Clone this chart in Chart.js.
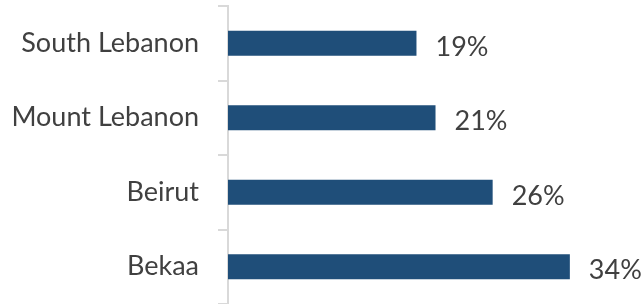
<!DOCTYPE html>
<html>
<head>
<meta charset="utf-8">
<script src="https://cdn.jsdelivr.net/npm/chart.js@4/dist/chart.umd.min.js"></script>
<style>
html,body{margin:0;padding:0;background:#fff;}
#wrap{width:642px;height:304px;position:relative;}
</style>
</head>
<body>
<div id="wrap"><canvas id="chartCanvas"></canvas></div>
<script>

const regions = ["South Lebanon", "Mount Lebanon", "Beirut", "Bekaa"];
const shares = [0.188, 0.207, 0.264, 0.341];

const barColor = "#1f4e79";
const textColor = "#404040";
const fontFamily = "Lato, 'Open Sans', sans-serif";

// draws the percent labels to the right of each bar
const valueLabels = {
id: "valueLabels",
afterDatasetsDraw(chart){
const ctx = chart.ctx;
const meta = chart.getDatasetMeta(0);
ctx.save();
ctx.font = "27px " + fontFamily;
ctx.fillStyle = textColor;
ctx.textAlign = "left";
ctx.textBaseline = "middle";
meta.data.forEach((bar, i) => {
ctx.fillText(Math.round(shares[i] * 100) + "%", bar.x + 19, bar.y + 4);
});
ctx.restore();
}
};

new Chart(document.getElementById("chartCanvas"), {
type: "bar",
data: {
labels: regions,
datasets: [{
data: shares,
backgroundColor: barColor,
borderWidth: 0,
barPercentage: 0.335,
categoryPercentage: 1
}]
},
options: {
indexAxis: "y",
responsive: true,
maintainAspectRatio: false,
animation: false,
layout: {padding: {top: 6, right: 13, bottom: 0, left: 0}},
plugins: {legend: {display: false}, tooltip: {enabled: false}},
scales: {
x: {display: false, min: 0, max: 0.4},
y: {
afterFit(scale){
scale.width = 228;
scale.paddingTop = 0;
scale.paddingBottom = 0;
},
border: {display: true, color: "#d9d9d9", width: 2},
grid: {offset: true, drawOnChartArea: false, tickLength: 10, color: "#d9d9d9", lineWidth: 2},
ticks: {padding: 19, color: textColor, font: {family: fontFamily, size: 27}}
}
}
},
plugins: [valueLabels]
});

</script>
</body>
</html>
